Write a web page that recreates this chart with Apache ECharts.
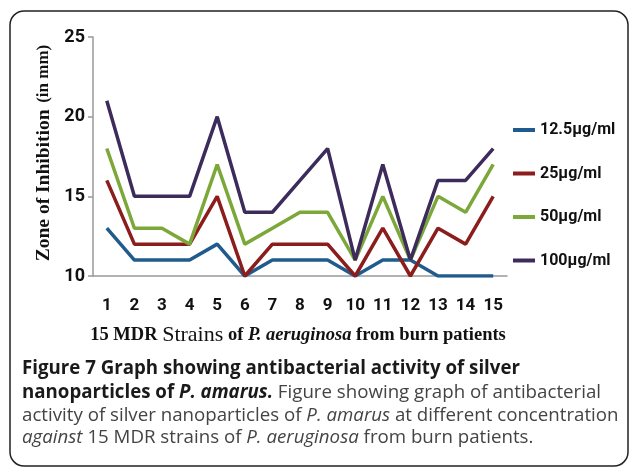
<!DOCTYPE html>
<html>
<head>
<meta charset="utf-8">
<script src="https://cdn.jsdelivr.net/npm/echarts@6/dist/echarts.min.js"></script>
<style>
  html, body { margin: 0; padding: 0; background: #fff; }
  #chart { width: 629px; height: 468px; }
</style>
</head>
<body>
<div id="chart"></div>
<script>
// 15 MDR strains on x, zone of inhibition (mm) on y
const strains = ['1', '2', '3', '4', '5', '6', '7', '8', '9', '10', '11', '12', '13', '14', '15']
const seriesNames = ['12.5µg/ml', '25µg/ml', '50µg/ml', '100µg/ml']
const conc12_5 = [13, 11, 11, 11, 12, 10, 11, 11, 11, 10, 11, 11, 10, 10, 10]
const conc25 = [16, 12, 12, 12, 15, 10, 12, 12, 12, 10, 13, 10, 13, 12, 15]
const conc50 = [18, 13, 13, 12, 17, 12, 13, 14, 14, 11, 15, 11, 15, 14, 17]
const conc100 = [21, 15, 15, 15, 20, 14, 14, 16, 18, 11, 17, 11, 16, 16, 18]
const colors = ['#1f5b8c', '#8c1d1d', '#7ca83a', '#3d2b5c']

const narrow = "Roboto, 'Liberation Sans', sans-serif"
const serif = "'Liberation Serif', 'DejaVu Serif', serif"
const capFont = "'Open Sans', 'Noto Sans', sans-serif"

const chart = echarts.init(document.getElementById('chart'))

const makeLine = (name, data, i) => ({
  name: name,
  type: 'line',
  data: data,
  symbol: 'none',
  lineStyle: { width: 3.5, color: colors[i] },
  itemStyle: { color: colors[i] }
})

const capRich = {
  b: { fontFamily: capFont, fontSize: 18.7, fontWeight: 'bold', fill: '#1a1a1a' },
  bi: { fontFamily: capFont, fontSize: 18.7, fontWeight: 'bold', fontStyle: 'italic', fill: '#1a1a1a' },
  r: { fontFamily: capFont, fontSize: 18.7, fill: '#444' },
  i: { fontFamily: capFont, fontSize: 18.7, fontStyle: 'italic', fill: '#444' }
}

const option = {
  animation: false,
  color: colors,
  grid: { left: 93, top: 37, width: 414, height: 239 },
  legend: {
    orient: 'vertical',
    left: 513,
    top: 120,
    padding: 0,
    icon: 'rect',
    itemWidth: 22,
    itemHeight: 4,
    itemGap: 23.5,
    textStyle: { fontFamily: narrow, fontWeight: 'bold', fontSize: 16, color: '#111', lineHeight: 20 },
    data: seriesNames
  },
  xAxis: {
    type: 'category',
    data: strains,
    axisLine: { lineStyle: { color: '#999', width: 1.5 } },
    axisTick: { length: 6, lineStyle: { color: '#999', width: 1.5 } },
    axisLabel: { interval: 0, fontFamily: narrow, fontWeight: 'bold', fontSize: 17, color: '#111', margin: 21 }
  },
  yAxis: {
    type: 'value',
    min: 10,
    max: 25,
    interval: 5,
    splitLine: { show: false },
    axisLine: { show: true, lineStyle: { color: '#999', width: 1.5 } },
    axisTick: { show: true, length: 5, lineStyle: { color: '#999', width: 1.5 } },
    axisLabel: { fontFamily: narrow, fontWeight: 'bold', fontSize: 18, color: '#111', margin: 8 }
  },
  series: [
    makeLine(seriesNames[0], conc12_5, 0),
    makeLine(seriesNames[1], conc25, 1),
    makeLine(seriesNames[2], conc50, 2),
    makeLine(seriesNames[3], conc100, 3)
  ],
  graphic: [
    {
      type: 'rect',
      shape: { x: 10, y: 11, width: 618, height: 455, r: 14 },
      style: { fill: 'none', stroke: '#222', lineWidth: 1.5 },
      silent: true
    },
    {
      type: 'text',
      x: 44,
      y: 153,
      rotation: Math.PI / 2,
      style: {
        text: '{a|Zone of Inhibition}  {b|(in mm)}',
        align: 'center',
        verticalAlign: 'middle',
        rich: {
          a: { fontFamily: serif, fontWeight: 'bold', fontSize: 19.5, fill: '#111' },
          b: { fontFamily: serif, fontWeight: 'bold', fontSize: 17, fill: '#111' }
        }
      }
    },
    {
      type: 'text',
      x: 298,
      y: 335,
      style: {
        text: '{a|15 MDR }{s|Strains}{a| of }{i|P. aeruginosa}{a| from burn patients}',
        align: 'center',
        verticalAlign: 'middle',
        rich: {
          a: { fontFamily: serif, fontWeight: 'bold', fontSize: 18.5, fill: '#111' },
          s: { fontFamily: serif, fontSize: 22, fill: '#111' },
          i: { fontFamily: serif, fontWeight: 'bold', fontStyle: 'italic', fontSize: 18.5, fill: '#111' }
        }
      }
    },
    {
      type: 'text', x: 22, y: 369,
      style: { text: '{b|Figure 7 Graph showing antibacterial activity of silver}', verticalAlign: 'middle', rich: capRich }
    },
    {
      type: 'text', x: 22, y: 393,
      style: { text: '{b|nanoparticles of }{bi|P. amarus.}{r| Figure showing graph of antibacterial}', verticalAlign: 'middle', rich: capRich }
    },
    {
      type: 'text', x: 22, y: 416,
      style: { text: '{r|activity of silver nanoparticles of }{i|P. amarus}{r| at different concentration}', verticalAlign: 'middle', rich: capRich }
    },
    {
      type: 'text', x: 22, y: 438,
      style: { text: '{i|against}{r| 15 MDR strains of }{i|P. aeruginosa}{r| from burn patients.}', verticalAlign: 'middle', rich: capRich }
    }
  ]
}

chart.setOption(option)
</script>
</body>
</html>
